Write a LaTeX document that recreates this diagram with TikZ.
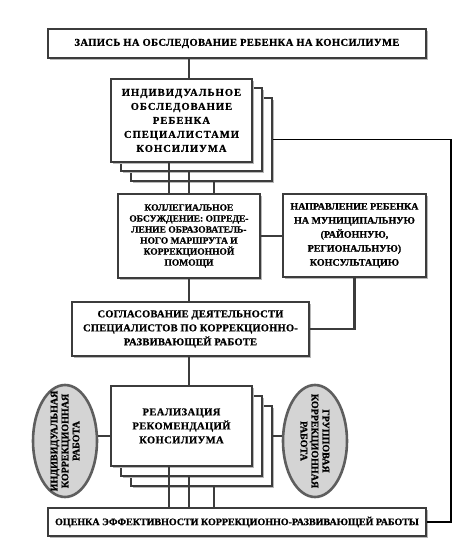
\documentclass[tikz,border=0pt]{standalone}
\usepackage{fontspec}
\setmainfont{Liberation Serif}
\newfontfamily\lblfont[LetterSpace=4,FakeBold=0.8,UprightFont=* Bold,BoldFont=* Bold]{Liberation Serif}
\newfontfamily\lblwide[LetterSpace=10,FakeBold=0.8,UprightFont=* Bold,BoldFont=* Bold]{Liberation Serif}
\newfontfamily\lblmid[LetterSpace=2,FakeBold=0.8,UprightFont=* Bold,BoldFont=* Bold]{Liberation Serif}
\newfontfamily\lbltight[LetterSpace=0,FakeBold=0.8,UprightFont=* Bold,BoldFont=* Bold]{Liberation Serif}
\usetikzlibrary{shapes.geometric,shadows}
\definecolor{boxline}{HTML}{3C3C3C}
\definecolor{ovalline}{HTML}{5E5E5E}
\definecolor{ovalfill}{HTML}{D4D4D4}
\tikzset{
  box/.style={rectangle, draw=boxline, line width=1.9pt, fill=white, inner sep=1pt,
    align=center, anchor=north west,
    font=\lblfont\fontsize{10.5}{14}\selectfont,
    drop shadow={shadow xshift=2.2pt, shadow yshift=-2.2pt, fill=black!28, opacity=1}},
  conn/.style={draw=boxline, line width=2.8pt},
  fbline/.style={draw=black, line width=1.6pt},
  oval/.style={ellipse, draw=ovalline, line width=2.6pt, fill=ovalfill, inner sep=0pt,
    minimum width=64pt, minimum height=112pt},
  ovaltext/.style={align=center, inner sep=0pt, font=\lbltight\fontsize{10}{11}\selectfont}
}
\begin{document}
\begin{tikzpicture}[x=1pt,y=-1pt]
\useasboundingbox (0,0) rectangle (471,543);

% top
\node[box, minimum width=378pt, minimum height=29pt] (top) at (47,28)
  {ЗАПИСЬ НА ОБСЛЕДОВАНИЕ РЕБЕНКА НА КОНСИЛИУМЕ};

% individual examination stack
\node[box, minimum width=141pt, minimum height=83pt] (ind3) at (130,97) {};
\node[box, minimum width=141pt, minimum height=83pt] (ind2) at (120,87) {};
\node[box, minimum width=141pt, minimum height=83pt,
  font=\lblwide\fontsize{10.5}{14}\selectfont] (ind1) at (110,78)
  {ИНДИВИДУАЛЬНОЕ\\ОБСЛЕДОВАНИЕ\\РЕБЕНКА\\СПЕЦИАЛИСТАМИ\\КОНСИЛИУМА};

% collegial discussion
\node[box, minimum width=142pt, minimum height=84pt,
  font=\lbltight\fontsize{9.5}{11}\selectfont] (kol) at (117,193)
  {КОЛЛЕГИАЛЬНОЕ\\ОБСУЖДЕНИЕ: ОПРЕДЕ-\\ЛЕНИЕ ОБРАЗОВАТЕЛЬ-\\НОГО МАРШРУТА И\\КОРРЕКЦИОННОЙ\\ПОМОЩИ};

% referral
\node[box, minimum width=143pt, minimum height=83pt,
  font=\lbltight\fontsize{10}{14}\selectfont] (nap) at (282,193)
  {НАПРАВЛЕНИЕ РЕБЕНКА\\НА МУНИЦИПАЛЬНУЮ\\(РАЙОННУЮ,\\РЕГИОНАЛЬНУЮ)\\КОНСУЛЬТАЦИЮ};

% coordination
\node[box, minimum width=237pt, minimum height=54pt,
  font=\lblmid\fontsize{10.5}{14}\selectfont] (sog) at (71,301)
  {СОГЛАСОВАНИЕ ДЕЯТЕЛЬНОСТИ\\СПЕЦИАЛИСТОВ ПО КОРРЕКЦИОННО-\\РАЗВИВАЮЩЕЙ РАБОТЕ};

% realization stack
\node[box, minimum width=141pt, minimum height=80pt] (real3) at (130,405) {};
\node[box, minimum width=141pt, minimum height=80pt] (real2) at (120,395) {};
\node[box, minimum width=141pt, minimum height=80pt] (real1) at (110,385)
  {РЕАЛИЗАЦИЯ\\РЕКОМЕНДАЦИЙ\\КОНСИЛИУМА};

% ovals
\node[oval] (lov) at (65,441) {};
\node[ovaltext, rotate=90] (lovt) at (lov.center) {ИНДИВИДУАЛЬНАЯ\\КОРРЕКЦИОННАЯ\\РАБОТА};
\node[oval] (rov) at (315,441) {};
\node[ovaltext, rotate=-90] (rovt) at (rov.center) {ГРУППОВАЯ\\КОРРЕКЦИОННАЯ\\РАБОТА};

% evaluation
\node[box, minimum width=378pt, minimum height=28pt,
  font=\lbltight\fontsize{10}{14}\selectfont] (oc) at (47,507)
  {ОЦЕНКА ЭФФЕКТИВНОСТИ КОРРЕКЦИОННО-РАЗВИВАЮЩЕЙ РАБОТЫ};

% connectors
\draw[conn] (top.south -| kol.north) -- (ind1.north -| kol.north);
\draw[conn] ([xshift=-20pt]ind1.south -| kol.north) -- ([xshift=-20pt]kol.north);
\draw[conn] (ind2.south -| kol.north) -- (kol.north);
\draw[conn] ([xshift=25pt]ind3.south -| kol.north) -- ([xshift=25pt]kol.north);
\draw[conn] (kol.east) -- (kol.east -| nap.west);
\draw[conn] (kol.south) -- (sog.north -| kol.south);
\draw[conn] (nap.south) |- (sog.east);
\draw[conn] (sog.south -| kol.south) -- (real1.north -| kol.south);
\draw[conn] ([yshift=5pt]lov.east) -- ([yshift=5pt]lov.east -| real1.west);
\draw[conn] ([yshift=5pt]real3.east |- rov.west) -- ([yshift=5pt]rov.west);
\draw[conn] ([xshift=-20pt]real1.south -| kol.north) -- ([xshift=-20pt]oc.north -| kol.north);
\draw[conn] (real2.south -| kol.north) -- (oc.north -| kol.north);
\draw[conn] ([xshift=25pt]real3.south -| kol.north) -- ([xshift=25pt]oc.north -| kol.north);
\draw[fbline] (ind3.east) -| ([xshift=24pt]oc.east) -- (oc.east);
\end{tikzpicture}
\end{document}
